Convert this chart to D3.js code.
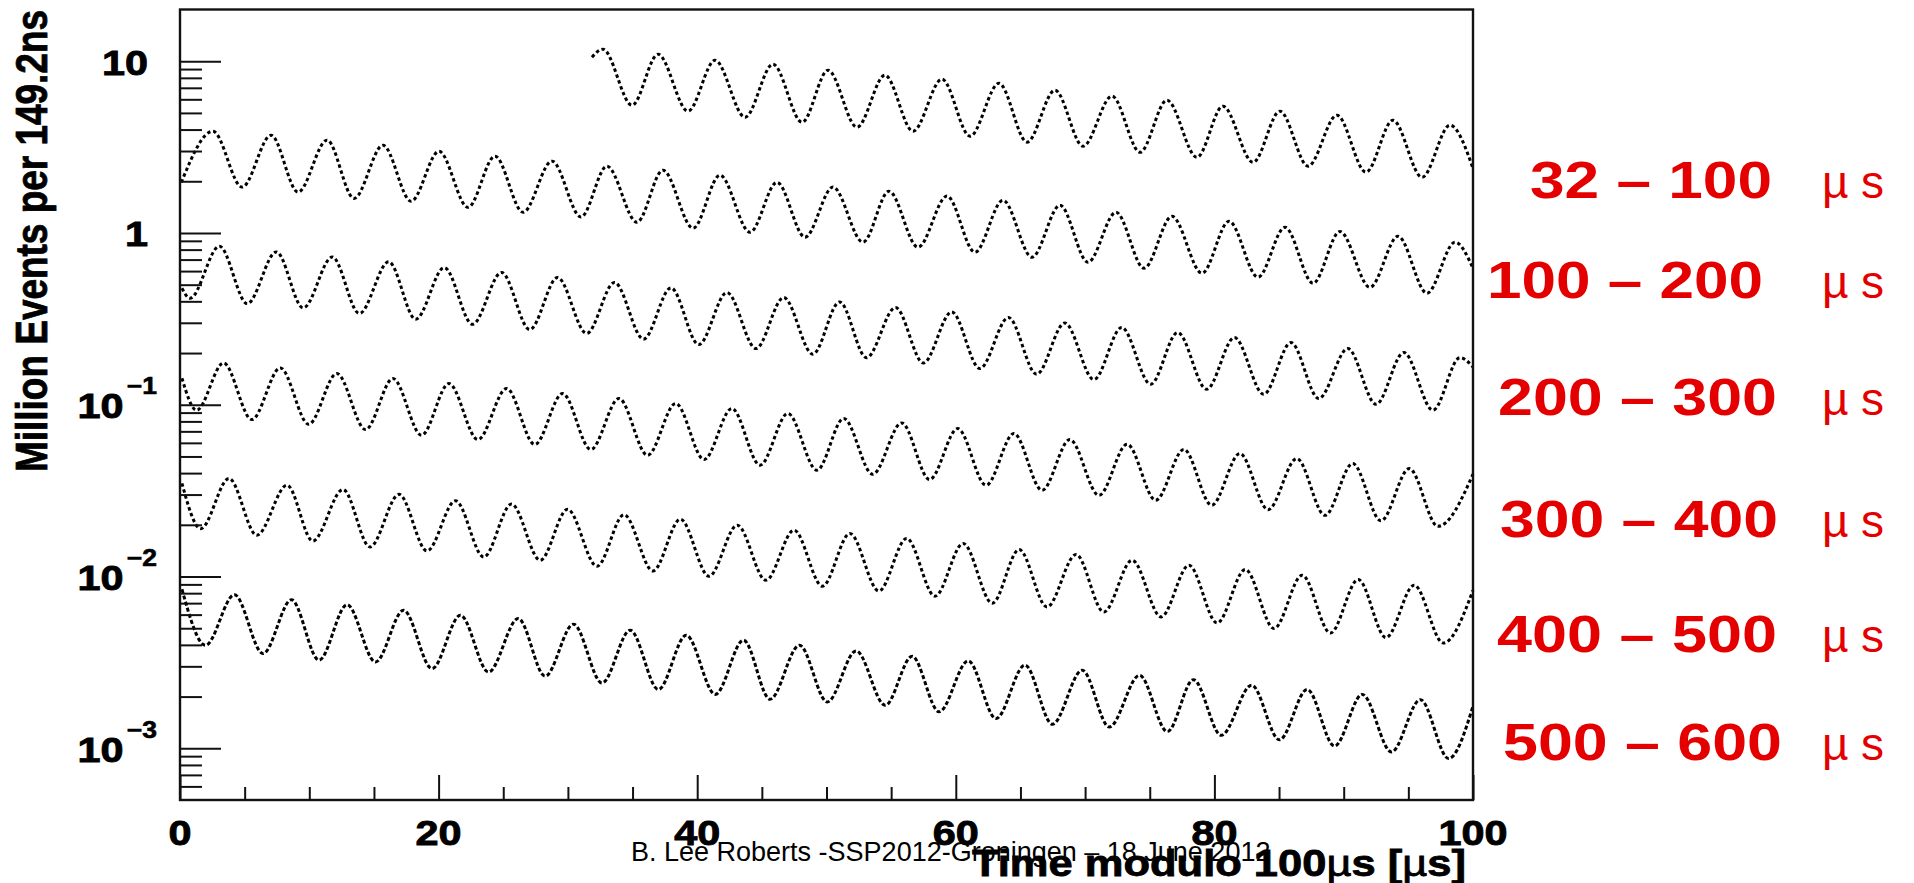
<!DOCTYPE html>
<html>
<head>
<meta charset="utf-8">
<script src="https://cdn.jsdelivr.net/npm/d3@7"></script>
<style>
  body { margin: 0; background: #fff; }
  svg { display: block; }
</style>
</head>
<body>
<svg id="chart"></svg>
<script>
// ---- data: [time modulo 100 us, million events per bin] at peaks/troughs
const win32_100 = [[31.86,10.55],[32.71,11.75],[34.96,5.54],[36.97,10.98],[39.29,5.12],[41.38,10.13],[43.70,4.72],[45.86,9.61],[48.11,4.41],[50.12,8.86],[52.36,4.13],[54.52,8.29],[56.69,3.91],[58.93,7.86],[61.10,3.66],[63.34,7.44],[65.51,3.38],[67.67,6.78],[69.84,3.20],[72.08,6.26],[74.25,2.95],[76.33,5.93],[78.65,2.76],[80.66,5.47],[82.99,2.58],[85.07,5.12],[87.24,2.45],[89.48,4.85],[91.72,2.26],[93.81,4.53],[96.06,2.11],[98.22,4.24],[100,2.38]];

const win100_200 = [[0.1,1.97],[2.55,3.91],[4.80,1.85],[7.04,3.71],[9.13,1.73],[11.37,3.47],[13.46,1.59],[15.70,3.24],[17.87,1.53],[20.03,2.99],[22.27,1.41],[24.36,2.80],[26.53,1.32],[28.77,2.62],[31.01,1.24],[33.02,2.45],[35.34,1.155],[37.35,2.32],[39.68,1.066],[41.76,2.17],[44.08,1.01],[46.17,1.97],[48.34,0.945],[50.50,1.85],[52.82,0.884],[54.83,1.75],[57.08,0.826],[59.32,1.64],[61.48,0.773],[63.65,1.55],[65.89,0.723],[68.06,1.45],[70.22,0.676],[72.39,1.32],[74.56,0.623],[76.72,1.25],[79.04,0.583],[81.13,1.17],[83.37,0.553],[85.46,1.08],[87.63,0.510],[89.71,1.02],[92.03,0.483],[94.20,0.957],[96.44,0.446],[98.61,0.884],[100,0.623]];

const win200_300 = [[0.15,0.477],[0.77,0.417],[3.05,0.837],[5.20,0.388],[7.45,0.776],[9.53,0.366],[11.78,0.725],[13.87,0.340],[16.14,0.679],[18.23,0.315],[20.44,0.629],[22.62,0.294],[24.87,0.589],[27.05,0.274],[29.20,0.550],[31.45,0.260],[33.60,0.515],[35.85,0.241],[37.97,0.479],[40.12,0.224],[42.30,0.450],[44.54,0.2125],[46.69,0.421],[48.94,0.197],[51.01,0.397],[53.09,0.188],[55.34,0.368],[57.49,0.175],[59.68,0.347],[61.86,0.1625],[64.07,0.322],[66.25,0.1506],[68.43,0.2995],[70.68,0.1402],[72.83,0.2816],[75.07,0.1317],[77.16,0.2634],[79.40,0.1231],[81.55,0.246],[83.81,0.1151],[85.92,0.230],[88.07,0.1087],[90.32,0.2125],[92.50,0.1007],[94.65,0.2014],[96.90,0.0929],[98.99,0.188],[100,0.166]];

const win300_400 = [[0.15,0.1427],[1.28,0.0929],[3.37,0.175],[5.55,0.082],[7.76,0.1638],[9.95,0.0770],[12.13,0.152],[14.35,0.0717],[16.47,0.1421],[18.68,0.0665],[20.80,0.1329],[23.04,0.0627],[25.26,0.1243],[27.44,0.0587],[29.59,0.1162],[31.77,0.0549],[33.95,0.1087],[36.16,0.0508],[38.34,0.1017],[40.53,0.0480],[42.68,0.0951],[44.86,0.0445],[47.01,0.0889],[49.26,0.0416],[51.33,0.0832],[53.57,0.0394],[55.82,0.0784],[57.97,0.0367],[60.15,0.0727],[62.34,0.0340],[64.49,0.0680],[66.67,0.0318],[68.82,0.0627],[71.07,0.0297],[73.25,0.0589],[75.46,0.0278],[77.64,0.0549],[79.79,0.0260],[81.97,0.0520],[84.15,0.0245],[86.37,0.0486],[88.55,0.0227],[90.70,0.0455],[92.88,0.0211],[95.07,0.0425],[97.29,0.0196],[100,0.0394]];

const win400_500 = [[0.15,0.0349],[1.60,0.0190],[3.79,0.0372],[5.94,0.0174],[8.28,0.0340],[10.27,0.0161],[12.61,0.0321],[14.69,0.01487],[16.94,0.0301],[19.10,0.0141],[21.31,0.0276],[23.49,0.0130],[25.64,0.0264],[27.86,0.01244],[29.97,0.0246],[32.25,0.01148],[34.34,0.0229],[36.58,0.01078],[38.70,0.02156],[40.91,0.01004],[43.10,0.0199],[45.31,0.00951],[47.49,0.0186],[49.68,0.00878],[51.81,0.0178],[54.05,0.00824],[56.20,0.01665],[58.39,0.00768],[60.57,0.01557],[62.82,0.00699],[64.90,0.01436],[67.05,0.00665],[69.30,0.01343],[71.45,0.00622],[73.64,0.01244],[75.88,0.00582],[78.03,0.01163],[80.21,0.00537],[82.39,0.01098],[84.61,0.00498],[86.79,0.01017],[88.97,0.00469],[91.12,0.0096],[93.27,0.00441],[95.45,0.0089],[97.70,0.0041],[100,0.00832]];

const win500_600 = [[0.15,0.00843],[1.97,0.00398],[4.21,0.00783],[6.42,0.00356],[8.62,0.00732],[10.75,0.00326],[12.92,0.00685],[15.12,0.00318],[17.29,0.00636],[19.49,0.00291],[21.69,0.00595],[23.86,0.00278],[26.16,0.00569],[28.24,0.00263],[30.43,0.00528],[32.64,0.0024],[34.82,0.00487],[37.00,0.0022],[39.15,0.00455],[41.40,0.00206],[43.58,0.00426],[45.63,0.00193],[47.91,0.00398],[50.06,0.00186],[52.29,0.00369],[54.54,0.00178],[56.62,0.00343],[58.71,0.00163],[60.96,0.00323],[63.11,0.00149],[65.35,0.00305],[67.47,0.00138],[69.78,0.00285],[71.87,0.00133],[74.21,0.00266],[76.36,0.00125],[78.38,0.00251],[80.53,0.00119],[82.88,0.00233],[85.03,0.00112],[87.18,0.0022],[89.29,0.00103],[91.44,0.00206],[93.69,0.000952],[95.93,0.00192],[98.11,0.000872],[100,0.00176]];

const windowLabels = ["32 – 100", "100 – 200", "200 – 300", "300 – 400", "400 – 500", "500 – 600"];
const xMajorTicks = [0, 20, 40, 60, 80, 100];
const xMinorTicks = [5, 10, 15, 25, 30, 35, 45, 50, 55, 65, 70, 75, 85, 90, 95];
const yMajorTicks = [1e-3, 1e-2, 1e-1, 1, 10];
const yTickLabels = [["10", "−3"], ["10", "−2"], ["10", "−1"], ["1", ""], ["10", ""]];

const allSeries = [win32_100, win100_200, win200_300, win300_400, win400_500, win500_600];

// ---- layout
const W = 1914, H = 883;
const frame = {left: 180, right: 1473, top: 9.5, bottom: 800};
const textFont = "'Liberation Sans', Arial, Helvetica, sans-serif";
const red = "#e40000";
const stretch = 1.15; // slide text is a bit wider than the font

const svg = d3.select("#chart").attr("width", W).attr("height", H);

const x = d3.scaleLinear().domain([0, 100]).range([frame.left, frame.right]);
const y = d3.scaleLog().domain([5e-4, 20]).range([frame.bottom, frame.top]);

// minor log ticks 2..9 inside the visible range
const yMinorTicks = [];
[1e-4, 1e-3, 1e-2, 1e-1, 1].forEach(dec => {
  for (let k = 2; k <= 9; k++) {
    const v = dec * k;
    if (v > 5e-4 && v < 20) yMinorTicks.push(v);
  }
});

// ---- curves
const line = d3.line()
  .x(d => x(d[0]))
  .y(d => y(d[1]))
  .curve(d3.curveMonotoneX);

svg.append("g")
  .selectAll("path")
  .data(allSeries)
  .join("path")
    .attr("d", line)
    .attr("fill", "none")
    .attr("stroke", "#000")
    .attr("stroke-width", 3)
    .attr("stroke-dasharray", (d, i) => i === 5 ? "4,2.4" : "3.4,2.8");

// ---- axes (ticks pointing into the frame)
const tickStyle = g => {
  g.select(".domain").remove();
  g.selectAll("line").attr("stroke", "#111").attr("stroke-width", 2);
};

svg.append("g")
  .attr("transform", `translate(${frame.left},0)`)
  .call(d3.axisRight(y).tickValues(yMinorTicks).tickSize(22).tickFormat(""))
  .call(tickStyle);

svg.append("g")
  .attr("transform", `translate(${frame.left},0)`)
  .call(d3.axisRight(y).tickValues(yMajorTicks).tickSize(41).tickFormat(""))
  .call(tickStyle);

svg.append("g")
  .attr("transform", `translate(0,${frame.bottom})`)
  .call(d3.axisTop(x).tickValues(xMinorTicks).tickSize(13).tickFormat(""))
  .call(tickStyle);

svg.append("g")
  .attr("transform", `translate(0,${frame.bottom})`)
  .call(d3.axisTop(x).tickValues(xMajorTicks).tickSize(25).tickFormat(""))
  .call(tickStyle);

// frame
svg.append("rect")
  .attr("x", frame.left).attr("y", frame.top)
  .attr("width", frame.right - frame.left)
  .attr("height", frame.bottom - frame.top)
  .attr("fill", "none")
  .attr("stroke", "#111")
  .attr("stroke-width", 2.4);

// ---- y tick labels
yMajorTicks.forEach((v, i) => {
  const lab = yTickLabels[i];
  const right = lab[1] ? 157 : 148;
  const t = svg.append("g")
    .attr("transform", `translate(${right},${y(v) + 13.5}) scale(${stretch},1)`)
    .append("text")
    .attr("text-anchor", "end")
    .attr("font-family", textFont)
    .attr("font-weight", "bold")
    .attr("font-size", 36)
    .attr("fill", "#000")
    .attr("stroke", "#000")
    .attr("stroke-width", 0.9);
  t.append("tspan").text(lab[0]);
  if (lab[1]) {
    t.append("tspan").attr("dx", 3).attr("dy", -24).attr("font-size", 23).attr("stroke-width", 0.6).text(lab[1]);
  }
});

// ---- x tick labels
svg.append("g")
  .selectAll("g")
  .data(xMajorTicks)
  .join("g")
    .attr("transform", d => `translate(${x(d)},845) scale(${stretch},1)`)
  .append("text")
    .attr("text-anchor", "middle")
    .attr("font-family", textFont)
    .attr("font-weight", "bold")
    .attr("font-size", 36)
    .attr("stroke", "#000")
    .attr("stroke-width", 0.9)
    .text(d => d);

// ---- axis titles
svg.append("text")
  .attr("transform", "translate(47,241) rotate(-90)")
  .attr("text-anchor", "middle")
  .attr("font-family", textFont)
  .attr("font-weight", "bold")
  .attr("font-size", 44)
  .attr("stroke", "#000")
  .attr("stroke-width", 0.8)
  .attr("textLength", 462)
  .attr("lengthAdjust", "spacingAndGlyphs")
  .text("Million Events per 149.2ns");

const xTitle = svg.append("text")
  .attr("x", 972).attr("y", 876)
  .attr("font-family", textFont)
  .attr("font-weight", "bold")
  .attr("font-size", 37)
  .attr("stroke", "#000")
  .attr("stroke-width", 0.8)
  .attr("textLength", 494)
  .attr("lengthAdjust", "spacingAndGlyphs");
xTitle.append("tspan").text("Time modulo 100");
xTitle.append("tspan").attr("font-weight", "normal").text("µ");
xTitle.append("tspan").text("s [");
xTitle.append("tspan").attr("font-weight", "normal").text("µ");
xTitle.append("tspan").text("s]");

// ---- footer
svg.append("text")
  .attr("x", 631).attr("y", 861)
  .attr("font-family", textFont)
  .attr("font-size", 27)
  .attr("fill", "#000")
  .text("B. Lee Roberts -SSP2012-Groningen – 18 June 2012");

// ---- red window labels
const labelBase = [198, 298, 415, 537, 652, 760];
const labelLeft = [1530, 1487, 1498, 1500, 1497, 1503];
const labelRight = [1772, 1763, 1777, 1778, 1777, 1782];

const lab = svg.append("g").selectAll("g")
  .data(windowLabels)
  .join("g");

lab.append("text")
  .attr("x", (d, i) => labelLeft[i])
  .attr("y", (d, i) => labelBase[i])
  .attr("font-family", textFont)
  .attr("font-weight", "bold")
  .attr("font-size", 52)
  .attr("fill", red)
  .attr("textLength", (d, i) => labelRight[i] - labelLeft[i])
  .attr("lengthAdjust", "spacingAndGlyphs")
  .text(d => d);

const unit = lab.append("text")
  .attr("y", (d, i) => labelBase[i])
  .attr("font-family", textFont)
  .attr("font-size", 46)
  .attr("fill", red);
unit.append("tspan").attr("x", 1822).text("µ");
unit.append("tspan").attr("x", 1861).text("s");
</script>
</body>
</html>
